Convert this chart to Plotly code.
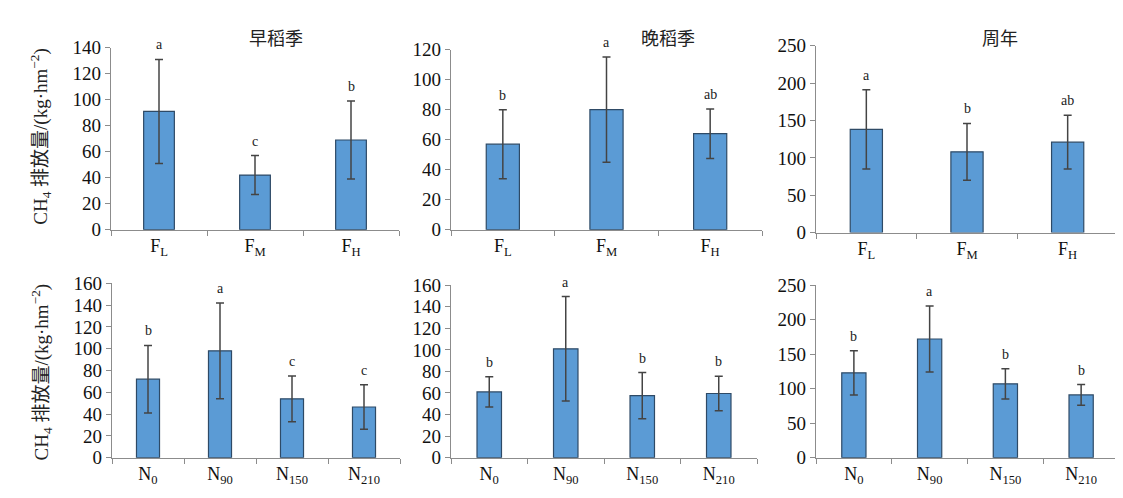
import plotly.graph_objects as go

# ---------------- data ----------------
f_cats = ["F<sub>L</sub>", "F<sub>M</sub>", "F<sub>H</sub>"]
n_cats = ["N<sub>0</sub>", "N<sub>90</sub>", "N<sub>150</sub>", "N<sub>210</sub>"]

early_f = [91, 42, 69]
early_f_err = [40, 15, 30]
early_f_sig = ["a", "c", "b"]

late_f = [57, 80, 64]
late_f_err = [23, 35, 16.5]
late_f_sig = ["b", "a", "ab"]

year_f = [138, 108, 121]
year_f_err = [53, 38, 36]
year_f_sig = ["a", "b", "ab"]

early_n = [72, 98, 54, 46.5]
early_n_err = [31, 44, 21, 20.5]
early_n_sig = ["b", "a", "c", "c"]

late_n = [61, 101, 57.5, 59.5]
late_n_err = [14, 48.5, 21.5, 16]
late_n_sig = ["b", "a", "b", "b"]

year_n = [123, 172, 107, 91]
year_n_err = [32, 48, 22, 15]
year_n_sig = ["b", "a", "b", "b"]

titles = ["早稻季", "晚稻季", "周年"]
y_ranges = [[0, 140], [0, 120], [0, 250], [0, 160], [0, 160], [0, 250]]
y_dticks = [20, 20, 50, 20, 20, 50]

# ---------------- layout geometry (pixels) ----------------
W, H = 1123, 498
boxes = [  # x0, x1, ytop, ybottom
    (103, 391, 31, 221),
    (443, 754, 33, 221),
    (808, 1110, 29, 224),
    (104, 392, 277, 459),
    (443, 749, 279, 459),
    (808, 1111, 279, 459),
]

panels = [
    (f_cats, early_f, early_f_err, early_f_sig),
    (f_cats, late_f, late_f_err, late_f_sig),
    (f_cats, year_f, year_f_err, year_f_sig),
    (n_cats, early_n, early_n_err, early_n_sig),
    (n_cats, late_n, late_n_err, late_n_sig),
    (n_cats, year_n, year_n_err, year_n_sig),
]

FONT = "Liberation Serif, Times New Roman, Noto Sans CJK SC, serif"
fig = go.Figure()
annotations = []
for i, ((cats, vals, errs, sigs), box) in enumerate(zip(panels, boxes)):
    k = "" if i == 0 else str(i + 1)
    fig.add_trace(go.Bar(
        x=cats, y=vals, width=0.32,
        marker=dict(color="#5B9BD5", line=dict(color="#2E4A66", width=1.2)),
        error_y=dict(type="data", array=errs, visible=True, color="#444444",
                     thickness=1.5, width=4),
        xaxis="x" + k, yaxis="y" + k, showlegend=False,
    ))
    for c, v, e, s in zip(cats, vals, errs, sigs):
        annotations.append(dict(
            x=c, y=v + e, xref="x" + k, yref="y" + k, text=s, showarrow=False,
            xanchor="center", yanchor="bottom", yshift=5,
            font=dict(family=FONT, size=14, color="#222222"),
        ))
    x0, x1, yt, yb = box
    fig.update_layout(**{
        "xaxis" + k: dict(
            domain=[x0 / W, x1 / W], anchor="y" + k, showline=True, linecolor="#8c8c8c",
            linewidth=1.2, ticks="outside", tickson="boundaries", ticklen=5,
            tickcolor="#8c8c8c", tickfont=dict(family=FONT, size=18, color="#111111"),
            fixedrange=True,
        ),
        "yaxis" + k: dict(
            domain=[1 - yb / H, 1 - yt / H], anchor="x" + k, range=y_ranges[i],
            dtick=y_dticks[i], showline=True, linecolor="#8c8c8c", linewidth=1.2,
            ticks="outside", ticklen=5, tickcolor="#8c8c8c", showgrid=False,
            zeroline=False, tickfont=dict(family=FONT, size=19, color="#111111"),
        ),
    })

# titles
for t, xc in zip(titles, [268, 660, 992]):
    annotations.append(dict(x=xc / W, y=1 - 20 / H, xref="paper", yref="paper",
                            text=t, showarrow=False, xanchor="center", yanchor="middle",
                            font=dict(family="Noto Sans CJK SC", size=18, color="#222222")))

ytitle = "CH<sub>4</sub> 排放量/(kg·hm<sup>−2</sup>)"
for yc in [124, 370]:
    annotations.append(dict(x=33 / W, y=1 - yc / H, xref="paper", yref="paper",
                            text=ytitle, showarrow=False, textangle=-90,
                            xanchor="center", yanchor="middle",
                            font=dict(family=FONT, size=19, color="#222222")))

fig.update_layout(
    width=W, height=H, margin=dict(l=0, r=0, t=0, b=0),
    plot_bgcolor="white", paper_bgcolor="white", bargap=0.68,
    annotations=annotations,
)
fig.write_html("out.html")
